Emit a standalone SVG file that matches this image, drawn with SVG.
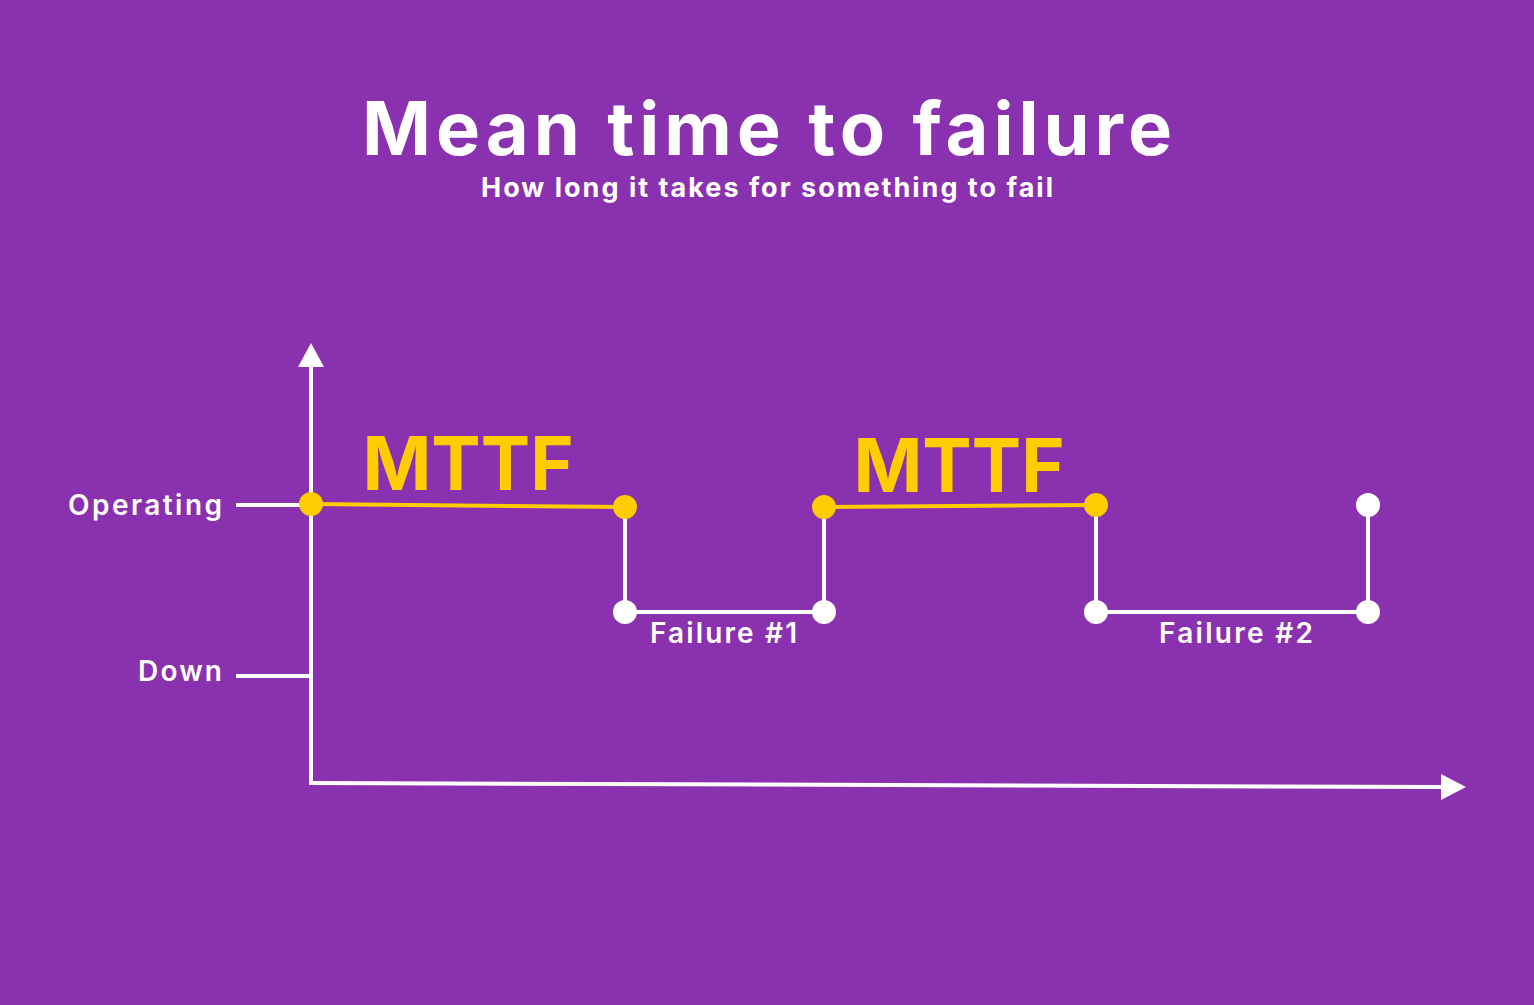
<svg xmlns="http://www.w3.org/2000/svg" width="1534" height="1005" viewBox="0 0 1534 1005">
<style>
.w{stroke:#fff;stroke-width:4;fill:none}
.y{stroke:#ffcc00;stroke-width:4;fill:none}
.t{font-family:Inter,"Open Sans",sans-serif;font-weight:700;fill:#fff}
.m{font-family:Inter,"Open Sans",sans-serif;font-weight:700;fill:#ffcc00;font-size:74px}
.l{font-family:Inter,"Open Sans",sans-serif;font-weight:600;fill:#fff;font-size:28px}
</style>
<rect width="1534" height="1005" fill="#8a31b0"/>
<text class="t" x="767" y="155" font-size="74" text-anchor="middle" textLength="810" lengthAdjust="spacing">Mean time to failure</text>
<text class="t" x="767" y="197" font-size="27" text-anchor="middle" font-weight="600" textLength="572" lengthAdjust="spacing">How long it takes for something to fail</text>
<g id="connectors">
<line class="w" x1="311" y1="362" x2="311" y2="785"/>
<polygon points="311,343 298,367 324,367" fill="#fff"/>
<line class="w" x1="309" y1="783" x2="1445" y2="787"/>
<polygon points="1466,787 1441,774 1441,800" fill="#fff"/>
<line class="w" x1="236" y1="505" x2="311" y2="505"/>
<line class="w" x1="236" y1="676" x2="311" y2="676"/>
<line class="y" x1="311" y1="504" x2="625" y2="507"/>
<polyline class="w" points="625,507 625,612 824,612 824,507"/>
<line class="y" x1="824" y1="507" x2="1096" y2="505"/>
<polyline class="w" points="1096,505 1096,612 1368,612 1368,505"/>
</g>
<g id="labels">
<text class="l" x="68" y="515" textLength="154" lengthAdjust="spacing">Operating</text>
<text class="l" x="138" y="681" textLength="84" lengthAdjust="spacing">Down</text>
<text class="m" x="468" y="490" text-anchor="middle">MTTF</text>
<text class="m" x="959" y="492" text-anchor="middle">MTTF</text>
<text class="l" x="650" y="643" textLength="147" lengthAdjust="spacing">Failure #1</text>
<text class="l" x="1159" y="643" textLength="154" lengthAdjust="spacing">Failure #2</text>
</g>
<g id="dots">
<circle cx="311" cy="504" r="12" fill="#ffcc00"/>
<circle cx="625" cy="507" r="12" fill="#ffcc00"/>
<circle cx="824" cy="507" r="12" fill="#ffcc00"/>
<circle cx="1096" cy="505" r="12" fill="#ffcc00"/>
<circle cx="625" cy="612" r="12" fill="#fff"/>
<circle cx="824" cy="612" r="12" fill="#fff"/>
<circle cx="1096" cy="612" r="12" fill="#fff"/>
<circle cx="1368" cy="612" r="12" fill="#fff"/>
<circle cx="1368" cy="505" r="12" fill="#fff"/>
</g>
</svg>
